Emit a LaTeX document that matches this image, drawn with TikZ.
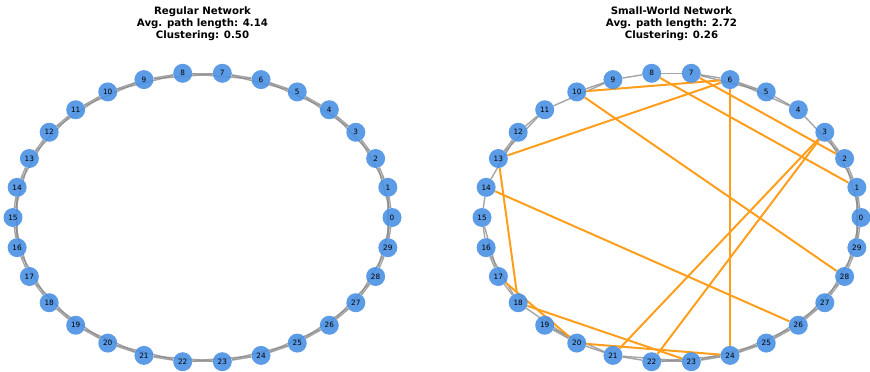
\documentclass[tikz,border=0pt]{standalone}
\usepackage{fontspec}
\setmainfont{DejaVu Sans}
\usetikzlibrary{backgrounds}
\definecolor{nodeblue}{HTML}{4A90E2}
\definecolor{ringgray}{HTML}{7F7F7F}
\definecolor{orng}{RGB}{255,158,28}
\begin{document}
\begin{tikzpicture}[x=1pt,y=-1pt,
  nd/.style={circle,fill=nodeblue,fill opacity=0.9,text opacity=1,minimum size=19pt,inner sep=0pt,font=\fontsize{7.3}{8}\selectfont},
  ring/.style={draw=ringgray,line width=1.4pt,opacity=0.7},
  rew/.style={draw=orng,line width=2pt},
  ttl/.style={align=center,font=\bfseries\fontsize{10.2}{12}\selectfont}]
\useasboundingbox (0,0) rectangle (870,372);
\node[ttl] (t1) at (202.5,23.5) {Regular Network\\Avg. path length: 4.14\\Clustering: 0.50};
\node[ttl] (t2) at (671.5,23.5) {Small-World Network\\Avg. path length: 2.72\\Clustering: 0.26};
\foreach \i in {0,...,29}{
  \node[nd] (L\i) at ({202.5+189.5*cos(12*\i)},{217.5-145*sin(12*\i)}) {\i};
  \node[nd] (R\i) at ({671.5+189.5*cos(12*\i)},{217.5-145*sin(12*\i)}) {\i};
}
\begin{scope}[on background layer]
\foreach \i in {0,...,29}{
  \pgfmathtruncatemacro\a{mod(\i+1,30)}
  \pgfmathtruncatemacro\b{mod(\i+2,30)}
  \draw[ring] (L\i) -- (L\a);
  \draw[ring] (L\i) -- (L\b);
}
\foreach \i in {0,1,2,4,5,6,7,8,9,11,12,14,15,16,17,19,20,21,22,23,24,25,26,27,28,29}{
  \pgfmathtruncatemacro\a{mod(\i+1,30)}
  \draw[ring] (R\i) -- (R\a);
}
\foreach \i in {0,1,2,4,5,9,11,12,15,16,18,19,21,22,23,24,25,26,27,28,29}{
  \pgfmathtruncatemacro\b{mod(\i+2,30)}
  \draw[ring] (R\i) -- (R\b);
}
\foreach \u/\v in {10/6,13/6,8/1,7/2,10/28,6/24,3/21,3/22,13/18,14/26,17/20,18/23,20/24}{
  \draw[rew] (R\u) -- (R\v);
}
\end{scope}
\end{tikzpicture}
\end{document}
